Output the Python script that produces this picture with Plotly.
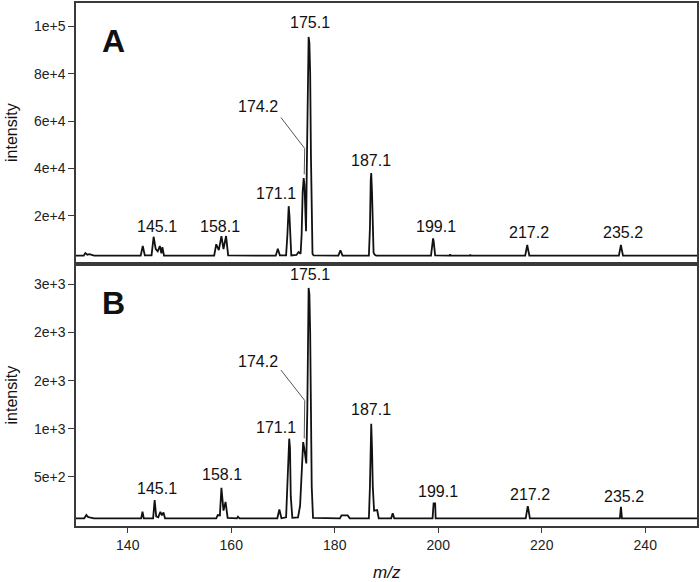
import plotly.graph_objects as go
from plotly.subplots import make_subplots

# ---------------- data ----------------
mz_a = [130.0, 131.5, 131.8, 132.2, 132.6, 133.5,
        142.5, 142.9, 143.3, 144.6, 145.0, 145.4, 145.8, 146.2, 146.5, 146.7, 147.0,
        156.7, 157.1, 157.6, 158.1, 158.5, 159.0, 159.4,
        168.6, 169.0, 169.4,
        170.6, 170.85, 171.0, 171.1, 171.25, 171.4, 171.6,
        172.6, 173.0, 173.4, 173.6, 173.8, 174.0, 174.15, 174.3, 174.45,
        174.6, 174.8, 174.95, 175.1, 175.25, 175.4, 175.55, 175.7, 175.9,
        180.7, 181.1, 181.5,
        186.6, 186.8, 186.95, 187.05, 187.2, 187.35, 187.5, 187.7, 188.0,
        198.6, 198.9, 199.0, 199.1, 199.4,
        202.2, 202.3, 202.4, 206.1, 206.2, 206.3,
        216.8, 217.1, 217.2, 217.3, 217.6,
        234.9, 235.2, 235.3, 235.4, 235.7, 250.0]
int_a = [3200, 3200, 4300, 3600, 3800, 3200,
         3200, 7270, 3300, 3300, 11170, 6000, 5000, 7270, 4200, 6800, 3200,
         3200, 8000, 5500, 11470, 6000, 11470, 3300,
         3200, 6130, 3300,
         3300, 12000, 22000, 24070, 20000, 8000, 3300,
         3500, 4750, 4000, 12000, 30000, 35950, 33000, 20000, 13500,
         40000, 80000, 95470, 93000, 80000, 45000, 15000, 4000, 3300,
         3200, 5460, 3200,
         3200, 15000, 35000, 38050, 30000, 15000, 4500, 3600, 3200,
         3200, 8500, 10500, 9500, 3300,
         3200, 3800, 3200, 3200, 3600, 3200,
         3200, 6500, 7690, 6500, 3200,
         3200, 6500, 7690, 6500, 3200, 3200]

mz_b = [130.0, 131.6, 132.0, 132.3, 132.6, 133.5,
        142.6, 142.85, 143.1, 144.9, 145.2, 145.5, 145.9, 146.3, 146.6, 146.9, 147.2,
        157.1, 157.4, 157.8, 158.1, 158.5, 158.9, 159.3,
        161.1, 161.3, 161.6,
        168.9, 169.3, 169.7,
        170.6, 170.85, 171.05, 171.2, 171.35, 171.5, 171.8,
        172.9, 173.3, 173.6, 173.9, 174.1, 174.3, 174.5,
        174.7, 174.85, 174.95, 175.1, 175.25, 175.4, 175.55, 175.8,
        181.0, 181.3, 182.5, 182.9,
        186.6, 186.8, 186.95, 187.05, 187.2, 187.35, 187.6, 188.2, 188.5,
        190.9, 191.2, 191.5,
        198.9, 199.1, 199.4, 199.5,
        216.9, 217.2, 217.3, 217.4, 217.7,
        235.1, 235.3, 235.5, 250.0]
int_b = [70, 70, 104, 85, 80, 70,
         70, 138, 70, 70, 259, 90, 80, 138, 100, 130, 70,
         70, 104, 100, 386, 150, 241, 75,
         70, 86, 70,
         70, 162, 70,
         80, 400, 820, 897, 800, 300, 75,
         80, 200, 500, 862, 800, 700, 640,
         1200, 2200, 2463, 2400, 2000, 1200, 400, 75,
         70, 100, 100, 70,
         70, 400, 950, 1052, 800, 400, 150, 155, 70,
         70, 121, 70,
         70, 224, 224, 70,
         70, 170, 197, 170, 70,
         70, 190, 70, 70]

labels = ["145.1", "158.1", "171.1", "174.2", "175.1", "187.1", "199.1", "217.2", "235.2"]
label_x_a = [145.6, 157.9, 168.7, 165.1, 175.2, 187.1, 199.6, 217.5, 235.7]
label_y_a = [15700, 15700, 29400, 66000, 101750, 43400, 15700, 13100, 13100]
label_x_b = [145.7, 158.3, 168.7, 165.1, 175.2, 187.1, 199.9, 217.7, 235.9]
label_y_b = [383, 523, 1009, 1700, 2608, 1200, 345, 316, 300]

ytick_a = [20000, 40000, 60000, 80000, 100000]
ytext_a = ["2e+4", "4e+4", "6e+4", "8e+4", "1e+5"]
ytick_b = [500, 1000, 1500, 2000, 2500]
ytext_b = ["5e+2", "1e+3", "2e+3", "2e+3", "3e+3"]
xtick = [140, 160, 180, 200, 220, 240]

# ---------------- figure ----------------
FONT = "Liberation Sans, Arial, sans-serif"
INK = "#111111"
FRAME = "#3a3a3a"

split = (526 - 262.7) / 525.0
fig = make_subplots(rows=2, cols=1, shared_xaxes=False, vertical_spacing=0)

fig.add_trace(go.Scatter(x=mz_a, y=int_a, mode="lines",
                         line=dict(color=INK, width=1.8), showlegend=False,
                         hoverinfo="skip"), row=1, col=1)
fig.add_trace(go.Scatter(x=mz_b, y=int_b, mode="lines",
                         line=dict(color=INK, width=1.8), showlegend=False,
                         hoverinfo="skip"), row=2, col=1)

axis_common = dict(showline=True, linecolor=FRAME, linewidth=1.5, mirror=True,
                   showgrid=False, zeroline=False,
                   tickfont=dict(family=FONT, size=14, color="#222222"))

fig.update_xaxes(range=[130, 250], domain=[0, 1], **axis_common)
fig.update_xaxes(showticklabels=False, ticks="", row=1, col=1)
fig.update_xaxes(tickvals=xtick, ticks="outside", ticklen=5, tickcolor=FRAME,
                 tickwidth=1.2, row=2, col=1)

fig.update_yaxes(**axis_common)
fig.update_yaxes(range=[-200, 109800], tickvals=ytick_a, ticktext=ytext_a,
                 ticks="outside", ticklen=6, tickcolor=FRAME, tickwidth=1.2,
                 domain=[split, 1.0], row=1, col=1)
fig.update_yaxes(range=[-10, 2715], tickvals=ytick_b, ticktext=ytext_b,
                 ticks="outside", ticklen=6, tickcolor=FRAME, tickwidth=1.2,
                 domain=[0, split], row=2, col=1)

ann = []
for t, x, y in zip(labels, label_x_a, label_y_a):
    ann.append(dict(text=t, x=x, y=y, xref="x", yref="y", showarrow=False,
                    xanchor="center", yanchor="middle",
                    font=dict(family=FONT, size=16, color=INK)))
for t, x, y in zip(labels, label_x_b, label_y_b):
    ann.append(dict(text=t, x=x, y=y, xref="x2", yref="y2", showarrow=False,
                    xanchor="center", yanchor="middle",
                    font=dict(family=FONT, size=16, color=INK)))

# panel letters
ann.append(dict(text="<b>A</b>", x=(114 - 76) / 623.0, y=(526 - 39.5) / 525.0,
                xref="paper", yref="paper", showarrow=False,
                xanchor="center", yanchor="middle",
                font=dict(family=FONT, size=32, color=INK)))
ann.append(dict(text="<b>B</b>", x=(114 - 76) / 623.0, y=(526 - 301.7) / 525.0,
                xref="paper", yref="paper", showarrow=False,
                xanchor="center", yanchor="middle",
                font=dict(family=FONT, size=32, color=INK)))

# axis titles
ann.append(dict(text="intensity", x=0, y=(526 - 131.5) / 525.0, xref="paper",
                yref="paper", showarrow=False, textangle=-90, xanchor="center",
                yanchor="middle", xshift=-65,
                font=dict(family=FONT, size=16, color=INK)))
ann.append(dict(text="intensity", x=0, y=(526 - 395) / 525.0, xref="paper",
                yref="paper", showarrow=False, textangle=-90, xanchor="center",
                yanchor="middle", xshift=-65,
                font=dict(family=FONT, size=16, color=INK)))
ann.append(dict(text="<i>m/z</i>", x=0.5, y=0, xref="paper", yref="paper",
                showarrow=False, xanchor="center", yanchor="middle", yshift=-46,
                font=dict(family=FONT, size=17, color=INK)))

# leader lines for 174.2
shapes = [
    dict(type="path", xref="x", yref="y",
         path="M 169.6 61500 L 174.2 48400 L 174.1 37500",
         line=dict(color="#555555", width=1)),
    dict(type="path", xref="x2", yref="y2",
         path="M 169.6 1610 L 174.2 1294 L 174.1 900",
         line=dict(color="#555555", width=1)),
]

fig.update_layout(width=700, height=582,
                  margin=dict(l=76, r=1, t=1, b=56),
                  paper_bgcolor="white", plot_bgcolor="white",
                  annotations=ann, shapes=shapes,
                  font=dict(family=FONT, color=INK))

fig.write_html("out.html",
               config={"displayModeBar": False},
               post_script="document.body.style.margin='0';"
                           "document.body.style.overflow='hidden';")
